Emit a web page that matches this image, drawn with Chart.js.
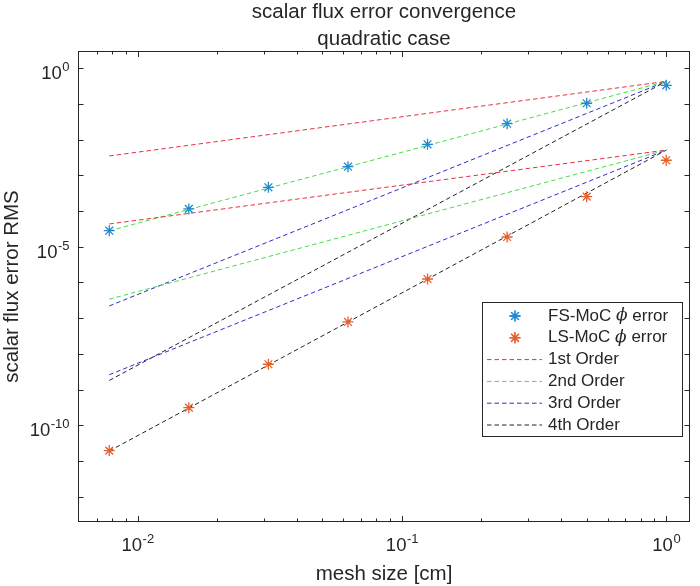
<!doctype html>
<html>
<head>
<meta charset="utf-8" />
<title>scalar flux error convergence</title>
<script src="https://cdn.jsdelivr.net/npm/chart.js@4.4.1/dist/chart.umd.min.js"></script>
<style>
    html, body { margin: 0; padding: 0; background: #fff; }
</style>
</head>
<body>
<canvas id="myChart" width="700" height="586"></canvas>
<script>
// mesh sizes and measured RMS errors
var meshSize = [0.0078125, 0.015625, 0.03125, 0.0625, 0.125, 0.25, 0.5, 1];
var fsError = [2.82e-5, 1.15e-4, 4.64e-4, 1.75e-3, 7.43e-3, 2.80e-2, 0.105, 0.334];
var lsError = [1.95e-11, 3.11e-10, 5.12e-9, 7.83e-8, 1.25e-6, 1.88e-5, 2.53e-4, 2.65e-3];

// reference order lines, values read at h = 1/128 and h = 1
var refMesh = [0.0078125, 1];
var fsOrder1 = [3.5e-3, 0.43];
var fsOrder2 = [2.8e-5, 0.43];
var fsOrder3 = [2.2e-7, 0.43];
var fsOrder4 = [1.8e-9, 0.43];
var lsOrder1 = [4.35e-5, 5.1e-3];
var lsOrder2 = [3.4e-7, 5.1e-3];
var lsOrder3 = [2.6e-9, 5.1e-3];
var lsOrder4 = [1.9e-11, 5.1e-3];

// tick labels (powers of ten)
var xTickExps = [-2, -1, 0];
var yTickExps = [0, -5, -10];

var legendLabels = ["FS-MoC", "LS-MoC", "1st Order", "2nd Order", "3rd Order", "4th Order"];

var fsColor = "#1f8ad0";
var lsColor = "#e5602c";
var orderColors = ["rgb(235,45,65)", "rgb(70,220,70)", "rgb(45,45,205)", "rgb(35,35,35)"];
var axisColor = "#262626";
var FONT = '"Liberation Sans", Arial, Helvetica, sans-serif';

function pts(xs, ys) {
    return xs.map(function (x, i) { return { x: x, y: ys[i] }; });
}

function refSet(ys, color) {
    return {
        data: pts(refMesh, ys), showLine: true, pointRadius: 0,
        borderColor: color, borderWidth: 1, borderDash: [4.5, 3], fill: false
    };
}

var datasets = [
    { data: pts(meshSize, fsError), pointStyle: "star", pointRadius: 5.5,
      borderColor: fsColor, backgroundColor: fsColor, borderWidth: 1.3, showLine: false },
    { data: pts(meshSize, lsError), pointStyle: "star", pointRadius: 5.5,
      borderColor: lsColor, backgroundColor: lsColor, borderWidth: 1.3, showLine: false },
    refSet(fsOrder1, orderColors[0]), refSet(lsOrder1, orderColors[0]),
    refSet(fsOrder2, orderColors[1]), refSet(lsOrder2, orderColors[1]),
    refSet(fsOrder3, orderColors[2]), refSet(lsOrder3, orderColors[2]),
    refSet(fsOrder4, orderColors[3]), refSet(lsOrder4, orderColors[3])
];

function drawPow(ctx, exp, x, y, align) {
    var base = "10", sup = String(exp);
    ctx.font = "18.5px " + FONT;
    var wb = ctx.measureText(base).width;
    ctx.font = "13px " + FONT;
    var ws = ctx.measureText(sup).width;
    var x0 = align === "right" ? x - wb - ws : x - (wb + ws) / 2;
    ctx.textAlign = "left";
    ctx.font = "18.5px " + FONT;
    ctx.fillText(base, x0, y);
    ctx.font = "13px " + FONT;
    ctx.fillText(sup, x0 + wb + 0.5, y - 8);
}

var matlabAxes = {
    id: "matlabAxes",
    afterDatasetsDraw: function (chart) {
        var ctx = chart.ctx, a = chart.chartArea;
        var xs = chart.scales.x, ys = chart.scales.y;
        ctx.save();
        ctx.fillStyle = axisColor;
        ctx.strokeStyle = axisColor;
        ctx.lineWidth = 1;

        // box
        ctx.strokeRect(a.left + 0.5, a.top + 0.5, a.right - a.left - 1, a.bottom - a.top - 1);

        // x ticks
        ctx.beginPath();
        for (var e = -3; e <= 0; e++) {
            for (var m = 1; m <= 9; m++) {
                var v = m * Math.pow(10, e);
                var px = Math.round(xs.getPixelForValue(v)) + 0.5;
                if (px < a.left + 2 || px > a.right - 2) continue;
                var len = m === 1 ? 6 : 3.5;
                ctx.moveTo(px, a.bottom); ctx.lineTo(px, a.bottom - len);
                ctx.moveTo(px, a.top); ctx.lineTo(px, a.top + len);
            }
        }
        // y ticks
        for (var k = 0; k >= -12; k--) {
            var py = Math.round(ys.getPixelForValue(Math.pow(10, k))) + 0.5;
            ctx.moveTo(a.left, py); ctx.lineTo(a.left + 5.5, py);
            ctx.moveTo(a.right, py); ctx.lineTo(a.right - 5.5, py);
        }
        ctx.stroke();

        // tick labels
        ctx.textBaseline = "alphabetic";
        xTickExps.forEach(function (ex) {
            drawPow(ctx, ex, xs.getPixelForValue(Math.pow(10, ex)), a.bottom + 29, "center");
        });
        yTickExps.forEach(function (ex) {
            drawPow(ctx, ex, a.left - 9, ys.getPixelForValue(Math.pow(10, ex)) + 11, "right");
        });

        // titles
        var cx = (a.left + a.right) / 2;
        ctx.font = "20.5px " + FONT;
        ctx.textAlign = "center";
        ctx.fillText("scalar flux error convergence", cx, 18);
        ctx.fillText("quadratic case", cx, 45);
        ctx.fillText("mesh size [cm]", cx, 580);
        ctx.save();
        ctx.translate(18, (a.top + a.bottom) / 2);
        ctx.rotate(-Math.PI / 2);
        ctx.fillText("scalar flux error RMS", 0, 0);
        ctx.restore();

        // legend
        var lx = 482, ly = 302, lw = 200, lh = 134;
        ctx.fillStyle = "#fff";
        ctx.fillRect(lx, ly, lw, lh);
        ctx.strokeStyle = axisColor;
        ctx.strokeRect(lx + 0.5, ly + 0.5, lw, lh);
        ctx.font = "17px " + FONT;
        ctx.textAlign = "left";
        ctx.textBaseline = "middle";
        legendLabels.forEach(function (lab, i) {
            var yy = 316 + i * 21.8;
            if (i < 2) {
                var col = i === 0 ? fsColor : lsColor;
                ctx.strokeStyle = col;
                ctx.lineWidth = 1.3;
                Chart.helpers.drawPoint(ctx, { pointStyle: "star", radius: 5.5, rotation: 0, borderWidth: 1.3 }, 515, yy);
                ctx.stroke();
                ctx.fillStyle = axisColor;
                ctx.font = "17px " + FONT;
                ctx.fillText(lab + " ", 548, yy);
                var w1 = ctx.measureText(lab + " ").width;
                ctx.font = "italic 17px \"DejaVu Serif\", serif";
                ctx.fillText("\u03d5", 548 + w1, yy);
                var w2 = ctx.measureText("\u03d5").width;
                ctx.font = "17px " + FONT;
                ctx.fillText(" error", 548 + w1 + w2, yy);
            } else {
                ctx.strokeStyle = orderColors[i - 2];
                ctx.lineWidth = 1;
                ctx.setLineDash([4.5, 3]);
                ctx.beginPath();
                ctx.moveTo(487, yy); ctx.lineTo(542, yy);
                ctx.stroke();
                ctx.setLineDash([]);
                ctx.fillStyle = axisColor;
                ctx.fillText(lab, 548, yy);
            }
        });
        ctx.restore();
    }
};

var chart = new Chart(document.getElementById("myChart"), {
    type: "scatter",
    data: { datasets: datasets },
    options: {
        responsive: false,
        animation: false,
        devicePixelRatio: 1,
        layout: { padding: { left: 78, right: 10, top: 51, bottom: 64 } },
        scales: {
            x: { type: "logarithmic", min: 0.00595, max: 1.23, display: false },
            y: { type: "logarithmic", min: 1.95e-13, max: 3.05, display: false }
        },
        plugins: { legend: { display: false }, tooltip: { enabled: false } }
    },
    plugins: [matlabAxes]
});
</script>
</body>
</html>
